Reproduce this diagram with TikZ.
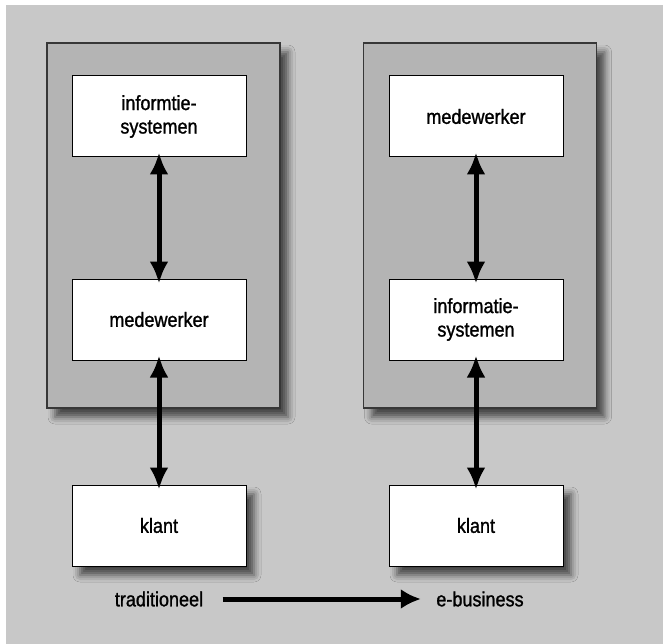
\documentclass[tikz,border=0pt]{standalone}
\usepackage{fontspec}
\setmainfont{Liberation Sans}[FakeStretch=0.88, FakeBold=1.2]
\usetikzlibrary{arrows.meta, positioning, shadows.blur}
\definecolor{bggray}{RGB}{200,200,200}
\definecolor{panelgray}{RGB}{180,180,180}
\definecolor{edgegray}{RGB}{55,55,55}

\begin{document}
\begin{tikzpicture}[
  x=1pt, y=-1pt,
  node distance=121pt,
  every node/.style={font=\fontsize{20.5}{23.5}\selectfont},
  softshadow/.style={blur shadow={shadow xshift=8pt, shadow yshift=-9pt,
                     shadow blur radius=7pt, shadow opacity=65}},
  panel/.style={rectangle, draw=edgegray, line width=1.2pt, fill=panelgray,
                minimum width=233pt, minimum height=365pt, softshadow},
  box/.style={rectangle, draw=black, line width=1pt, fill=white,
              minimum width=174pt, minimum height=81pt, align=center},
  arr/.style={{Latex[length=22pt,width=19pt]}-{Latex[length=22pt,width=19pt]},
              line width=5pt, shorten <=-5pt, shorten >=-5pt},
  harr/.style={-{Latex[length=20pt,width=20pt]}, line width=5pt},
]
\useasboundingbox (0,0) rectangle (663,644);
\fill[bggray] (6,5) rectangle (663,644);

\node[panel] (lpanel) at (163.5,225.5) {};
\node[panel] (rpanel) at (480,225.5) {};

\node[box] (linfo) at (159,116.5) {informtie-\\systemen};
\node[box, below=of linfo] (lmede) {medewerker};
\node[box, below=124pt of lmede, softshadow] (lklant) {klant};

\node[box] (rmede) at (476,116.5) {medewerker};
\node[box, below=of rmede] (rinfo) {informatie-\\systemen};
\node[box, below=124pt of rinfo, softshadow] (rklant) {klant};

\draw[arr] (linfo) -- (lmede);  \draw[arr] (lmede) -- (lklant);
\draw[arr] (rmede) -- (rinfo);  \draw[arr] (rinfo) -- (rklant);

% from old to new
\node (trad) at (159,599) {traditioneel};
\node (ebus) at (480,599) {e-business};
\draw[harr, shorten <=16pt, shorten >=12pt] (trad) -- (ebus);
\end{tikzpicture}
\end{document}
